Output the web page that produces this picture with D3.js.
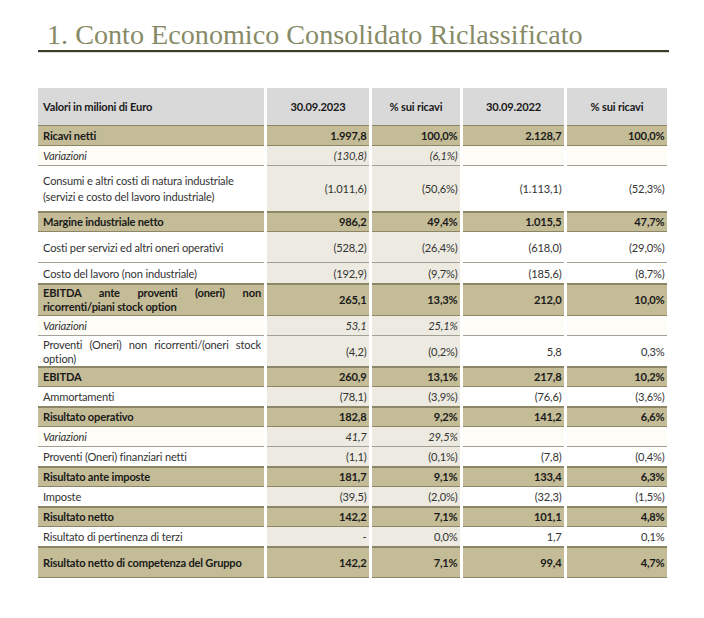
<!DOCTYPE html>
<html><head><meta charset="utf-8">
<script src="https://cdn.jsdelivr.net/npm/d3@7"></script>
<style>html,body{margin:0;padding:0;background:#fff;}svg{display:block;}</style>
</head><body>
<svg id="c" width="704" height="618"></svg>
<script>
// ---------- data ----------
const title = "1. Conto Economico Consolidato Riclassificato";
const headers = ["Valori in milioni di Euro", "30.09.2023", "% sui ricavi", "30.09.2022", "% sui ricavi"];
const labels = [
  ["Ricavi netti"],
  ["Variazioni"],
  ["Consumi e altri costi di natura industriale", "(servizi e costo del lavoro industriale)"],
  ["Margine industriale netto"],
  ["Costi per servizi ed altri oneri operativi"],
  ["Costo del lavoro (non industriale)"],
  ["EBITDA ante proventi (oneri) non", "ricorrenti/piani stock option"],
  ["Variazioni"],
  ["Proventi (Oneri) non ricorrenti/(oneri stock", "option)"],
  ["EBITDA"],
  ["Ammortamenti"],
  ["Risultato operativo"],
  ["Variazioni"],
  ["Proventi (Oneri) finanziari netti"],
  ["Risultato ante imposte"],
  ["Imposte"],
  ["Risultato netto"],
  ["Risultato di pertinenza di terzi"],
  ["Risultato netto di competenza del Gruppo"]
];
const rowKinds = ["total","change","item","total","item","item","total","change","item","total",
                  "item","total","change","item","total","item","total","item","total"];
const values2023 = ["1.997,8","(130,8)","(1.011,6)","986,2","(528,2)","(192,9)","265,1","53,1","(4,2)","260,9",
                    "(78,1)","182,8","41,7","(1,1)","181,7","(39,5)","142,2","-","142,2"];
const pct2023 = ["100,0%","(6,1%)","(50,6%)","49,4%","(26,4%)","(9,7%)","13,3%","25,1%","(0,2%)","13,1%",
                 "(3,9%)","9,2%","29,5%","(0,1%)","9,1%","(2,0%)","7,1%","0,0%","7,1%"];
const values2022 = ["2.128,7","","(1.113,1)","1.015,5","(618,0)","(185,6)","212,0","","5,8","217,8",
                    "(76,6)","141,2","","(7,8)","133,4","(32,3)","101,1","1,7","99,4"];
const pct2022 = ["100,0%","","(52,3%)","47,7%","(29,0%)","(8,7%)","10,0%","","0,3%","10,2%",
                 "(3,6%)","6,6%","","(0,4%)","6,3%","(1,5%)","4,8%","0,1%","4,7%"];

// ---------- layout ----------
const headerH = 37;
const rowHeights = [21,20,46,20,31,21,32,20,31,20,20,20,20,20,20,20,20,20,31];
const justifyFirst = [false,false,false,false,false,false,true,false,true,false,false,false,false,false,false,false,false,false,false];
const lineGap = [0,0,16,0,0,0,14,0,14,0,0,0,0,0,0,0,0,0,0];
const tableTop = 88, tableLeft = 38, tableRight = 667;
const colStarts = [38, 267, 372, 463, 567];
const colEnds   = [264, 369, 460, 564, 667];

const FONT = "Lato, 'Open Sans', 'Liberation Sans', sans-serif";
const SERIF = "'Liberation Serif', 'DejaVu Serif', serif";
const LS = -0.18;
const C = {
  header: "#d9d9d9", total: "#c4bc96", beige: "#edebe1", cream: "#fdfcf6", white: "#ffffff",
  line: "#a3a196", totLine: "#8c8566", text: "#333333", bold: "#1a1a1a", title: "#878a66", rule: "#3e3d2c"
};

const svg = d3.select("#c");

function measure(str, size, weight, style, family, ls) {
  const t = svg.append("text").attr("font-family", family || FONT).attr("font-size", size)
    .attr("font-weight", weight || "normal").attr("font-style", style || "normal")
    .attr("letter-spacing", ls || 0).text(str);
  const w = t.node().getComputedTextLength(); t.remove(); return w;
}
// fit body font so the reference string spans 191px with the chosen letter spacing
const refStr = "Consumi e altri costi di natura industriale";
const FS = (191 - LS * refStr.length) / (measure(refStr, 100) / 100);
const TFS = 100 * 536 / measure(title, 100, "normal", "normal", SERIF);

// scales
const rowIdx = d3.range(rowHeights.length);
const tops = [];
let acc = tableTop + headerH;
rowHeights.forEach(h => { tops.push(acc); acc += h; });
const yTop = d3.scaleOrdinal().domain(rowIdx).range(tops);
const yH = d3.scaleOrdinal().domain(rowIdx).range(rowHeights);
const colIdx = [0,1,2,3,4];
const x0 = d3.scaleOrdinal().domain(colIdx).range(colStarts);
const x1 = d3.scaleOrdinal().domain(colIdx).range(colEnds);

// ---------- title ----------
svg.append("text").attr("x", 47).attr("y", 44).attr("font-family", SERIF).attr("font-size", TFS)
  .attr("fill", C.title).text(title);
svg.append("rect").attr("x", tableLeft).attr("y", 50).attr("width", tableRight + 2 - tableLeft).attr("height", 2.2).attr("fill", C.rule);

// ---------- header ----------
const hg = svg.append("g");
hg.selectAll("rect").data(colIdx).join("rect")
  .attr("x", c => x0(c)).attr("y", tableTop).attr("width", c => x1(c) - x0(c)).attr("height", headerH)
  .attr("fill", C.header);
hg.selectAll("text").data(colIdx).join("text")
  .attr("x", c => c === 0 ? 43 : (x0(c) + x1(c)) / 2)
  .attr("y", tableTop + headerH / 2 + FS * 0.36)
  .attr("text-anchor", c => c === 0 ? "start" : "middle")
  .attr("font-family", FONT).attr("font-size", FS).attr("letter-spacing", LS)
  .attr("font-weight", "bold").attr("fill", C.bold)
  .text(c => headers[c]);

// ---------- body cells ----------
function cellFill(r, c) {
  const k = rowKinds[r];
  if (k === "total") return C.total;
  if (c === 1 || c === 2) return C.beige;
  return k === "change" ? C.cream : C.white;
}
const cells = [];
rowIdx.forEach(r => colIdx.forEach(c => cells.push({r, c})));
const body = svg.append("g");
body.selectAll("rect.cell").data(cells).join("rect").attr("class", "cell")
  .attr("x", d => x0(d.c)).attr("y", d => yTop(d.r)).attr("width", d => x1(d.c) - x0(d.c))
  .attr("height", d => yH(d.r)).attr("fill", d => cellFill(d.r, d.c));

body.selectAll("line.b").data(cells).join("line").attr("class", "b")
  .attr("x1", d => x0(d.c)).attr("x2", d => x1(d.c))
  .attr("y1", d => yTop(d.r) + yH(d.r) - 0.5).attr("y2", d => yTop(d.r) + yH(d.r) - 0.5)
  .attr("stroke", d => (rowKinds[d.r] === "total" || rowKinds[d.r + 1] === "total") ? C.totLine : C.line)
  .attr("stroke-width", 1);
body.selectAll("line.t").data(cells.filter(d => rowKinds[d.r] === "total")).join("line").attr("class", "t")
  .attr("x1", d => x0(d.c)).attr("x2", d => x1(d.c))
  .attr("y1", d => yTop(d.r) + 0.5).attr("y2", d => yTop(d.r) + 0.5)
  .attr("stroke", C.totLine).attr("stroke-width", 1);

const styleOf = r => rowKinds[r] === "total" ? {w: "bold", s: "normal", f: C.bold}
  : rowKinds[r] === "change" ? {w: "normal", s: "italic", f: C.text} : {w: "normal", s: "normal", f: C.text};

const lab = body.selectAll("text.lab").data(rowIdx).join("text").attr("class", "lab")
  .attr("font-family", FONT).attr("font-size", FS).attr("letter-spacing", LS)
  .attr("font-weight", r => styleOf(r).w).attr("font-style", r => styleOf(r).s).attr("fill", r => styleOf(r).f);
lab.each(function(r) {
  const lines = labels[r];
  const n = lines.length;
  const mid = yTop(r) + yH(r) / 2;
  const g = lineGap[r];
  const sel = d3.select(this);
  lines.forEach((ln, i) => {
    const ts = sel.append("tspan").attr("x", 43)
      .attr("y", mid + (i - (n - 1) / 2) * g + FS * 0.36).text(ln);
    if (i === 0 && justifyFirst[r]) {
      const nat = ts.node().getComputedTextLength();
      const words = ln.split(" ").length;
      const target = 261 - 43;
      ts.attr("word-spacing", (target - nat) / (words - 1));
    }
  });
});

const valueCols = [values2023, pct2023, values2022, pct2022];
const vals = [];
rowIdx.forEach(r => valueCols.forEach((arr, i) => { if (arr[r] !== "") vals.push({r, c: i + 1, v: arr[r]}); }));
body.selectAll("text.val").data(vals).join("text").attr("class", "val")
  .attr("x", d => x1(d.c) - 2.5).attr("y", d => yTop(d.r) + yH(d.r) / 2 + FS * 0.36)
  .attr("text-anchor", "end").attr("font-family", FONT).attr("font-size", FS).attr("letter-spacing", LS)
  .attr("font-weight", d => styleOf(d.r).w).attr("font-style", d => styleOf(d.r).s)
  .attr("fill", d => styleOf(d.r).f).text(d => d.v);
</script>
</body></html>
